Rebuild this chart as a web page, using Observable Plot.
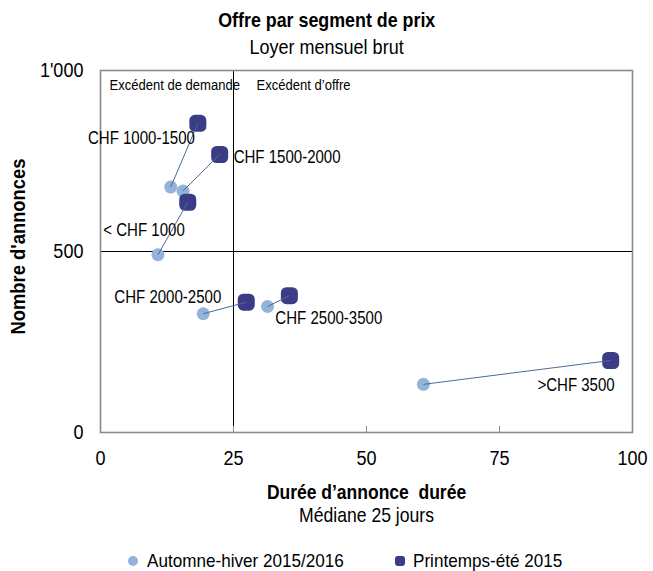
<!DOCTYPE html>
<html>
<head>
<meta charset="utf-8">
<script src="https://cdn.jsdelivr.net/npm/d3@7"></script>
<script src="https://cdn.jsdelivr.net/npm/@observablehq/plot@0.6"></script>
<style>
  html, body { margin: 0; padding: 0; background: #fff; }
  #wrap { position: relative; width: 653px; height: 571px; font-family: "Liberation Sans", Arial, sans-serif; color: #000; }
  #head { position: relative; height: 58px; }
  .hline { position: absolute; left: 0; width: 653px; text-align: center; white-space: nowrap; }
  .hline span { display: inline-block; transform-origin: 50% 50%; }
  #title { top: 9px; font-weight: bold; font-size: 20.5px; line-height: 22px; }
  #title span { transform: scaleX(0.87); }
  #subtitle { top: 36px; font-size: 20px; line-height: 22px; }
  #subtitle span { transform: scaleX(0.9); }
  #chart svg { display: block; }
  #legend { position: relative; height: 41px; font-size: 19px; }
  .sw { position: absolute; top: 26px; width: 10px; height: 10px; }
  .lt { position: absolute; top: 20px; line-height: 22px; white-space: nowrap; transform: scaleX(0.9); transform-origin: 0 50%; }
</style>
</head>
<body>
<div id="wrap">
  <div id="head">
    <div id="title" class="hline"><span>Offre par segment de prix</span></div>
    <div id="subtitle" class="hline"><span>Loyer mensuel brut</span></div>
  </div>
  <div id="chart"></div>
  <div id="legend"></div>
</div>
<script>
// ---- data ----
const segments = ["< CHF 1000", "CHF 1000-1500", "CHF 1500-2000", "CHF 2000-2500", "CHF 2500-3500", ">CHF 3500"];
const autumnDuration = [10.8, 13.2, 15.5, 19.3, 31.4, 60.7];
const autumnAds      = [491, 678, 667, 328, 348, 133];
const springDuration = [16.4, 18.3, 22.4, 27.4, 35.5, 95.9];
const springAds      = [636, 854, 768, 360, 378, 199];
const seriesNames = ["Automne-hiver 2015/2016", "Printemps-été 2015"];
const medianDuration = 25;
const balanceAds = 500;
const xTicks = [0, 25, 50, 75, 100];
const yTicks = [0, 500, 1000];
const quadrantLabels = ["Excédent de demande", "Excédent d’offre"];
const xTitle = "Durée d’annonce\u00a0 durée";
const xSubtitle = "Médiane 25 jours";
const yTitle = "Nombre d'annonces";

// ---- styling ----
const lightColor = "#93b3da";
const darkColor = "#3a3d85";
const linkColor = "#4d6a96";
// label placement relative to the Printemps-été point (per segment, in order)
const labelPlacement = [
  {anchor: "end", dx: -3, dy: 28},
  {anchor: "end", dx: -3, dy: 15},
  {anchor: "start", dx: 14, dy: 3},
  {anchor: "end", dx: -25, dy: -5},
  {anchor: "start", dx: -14, dy: 23},
  {anchor: "end", dx: 4, dy: 25}
];

const rows = segments.map((s, i) => ({
  segment: s,
  ax: autumnDuration[i], ay: autumnAds[i],
  sx: springDuration[i], sy: springAds[i],
  ...labelPlacement[i]
}));

const roundedSquare = {
  draw(ctx, size) {
    const s = Math.sqrt(size), h = s / 2, r = s * 0.32;
    ctx.moveTo(-h + r, -h);
    ctx.arcTo(h, -h, h, h, r);
    ctx.arcTo(h, h, -h, h, r);
    ctx.arcTo(-h, h, -h, -h, r);
    ctx.arcTo(-h, -h, h, -h, r);
    ctx.closePath();
  }
};

const fmt = d3.formatLocale({decimal: ".", thousands: "'", grouping: [3], currency: ["", ""]}).format(",");

const labelMarks = rows.map(r => Plot.text([r], {
  x: "sx", y: "sy", text: "segment", textAnchor: r.anchor, dx: r.dx, dy: r.dy,
  fontSize: 18, fill: "#000"
}));

const chart = Plot.plot({
  width: 653,
  height: 472,
  marginLeft: 100,
  marginRight: 21,
  marginTop: 12,
  marginBottom: 98,
  style: {fontFamily: '"Liberation Sans", Arial, sans-serif', background: "#fff", overflow: "visible"},
  x: {domain: [0, 100]},
  y: {domain: [0, 1000]},
  marks: [
    Plot.ruleX([medianDuration], {stroke: "#000", strokeWidth: 1}),
    Plot.ruleY([balanceAds], {stroke: "#000", strokeWidth: 1}),
    Plot.frame({stroke: "#8a8a8a", strokeWidth: 1.6}),
    Plot.axisX({ticks: xTicks, tickSize: -6, stroke: "#8a8a8a", text: null, label: null}),
    Plot.axisX({ticks: xTicks, tickSize: 0, tickPadding: 18, tickFormat: fmt, fontSize: 21, label: null}),
    Plot.axisY({ticks: yTicks, tickSize: 0, tickPadding: 17, tickFormat: fmt, fontSize: 21, label: null}),
    Plot.text([quadrantLabels[0]], {frameAnchor: "top-left", dx: 9, dy: 15, lineAnchor: "middle", text: d => d, fontSize: 14.5, textAnchor: "start"}),
    Plot.text([quadrantLabels[1]], {x: () => medianDuration, frameAnchor: "top", dx: 23, dy: 15, lineAnchor: "middle", text: d => d, fontSize: 14.5, textAnchor: "start"}),
    Plot.dot(rows, {x: "ax", y: "ay", r: 6.5, fill: lightColor, stroke: null}),
    Plot.dot(rows, {x: "sx", y: "sy", r: 9.6, symbol: roundedSquare, fill: darkColor, stroke: null}),
    Plot.link(rows, {x1: "ax", y1: "ay", x2: "sx", y2: "sy", stroke: linkColor, strokeWidth: 1}),
    ...labelMarks,
    Plot.text([xTitle], {frameAnchor: "bottom", dy: 60, lineAnchor: "middle", textAnchor: "middle", text: d => d, fontWeight: "bold", fontSize: 20}),
    Plot.text([xSubtitle], {frameAnchor: "bottom", dy: 83, lineAnchor: "middle", textAnchor: "middle", text: d => d, fontSize: 20}),
    Plot.text([yTitle], {frameAnchor: "left", dx: -82, dy: -5, rotate: -90, lineAnchor: "middle", textAnchor: "middle", text: d => d, fontWeight: "bold", fontSize: 20})
  ]
});

// narrow-font emulation: condense texts horizontally about their anchor
const condense = new Map();
xTicks.concat(yTicks).forEach(v => condense.set(fmt(v), 0.86));
segments.forEach(s => condense.set(s, 0.835));
quadrantLabels.forEach(s => condense.set(s, 0.9));
condense.set(xTitle, 0.875);
condense.set(xSubtitle, 0.88);
condense.set(yTitle, 0.92);
chart.querySelectorAll("text").forEach(t => {
  const f = condense.get(t.textContent);
  if (!f) return;
  const x = parseFloat(t.getAttribute("x")) || 0;
  const tr = t.getAttribute("transform") || "";
  t.setAttribute("transform", `${tr} translate(${x},0) scale(${f},1) translate(${-x},0)`.trim());
});
document.getElementById("chart").appendChild(chart);

// ---- legend ----
const legend = document.getElementById("legend");
[[lightColor, "50%", 128, 147], [darkColor, "3px", 395, 413]].forEach(([c, br, sw, tx], i) => {
  const s = document.createElement("div");
  s.className = "sw";
  s.style.left = sw + "px";
  s.style.background = c;
  s.style.borderRadius = br;
  legend.appendChild(s);
  const t = document.createElement("div");
  t.className = "lt";
  t.style.left = tx + "px";
  t.textContent = seriesNames[i];
  legend.appendChild(t);
});
</script>
</body>
</html>
